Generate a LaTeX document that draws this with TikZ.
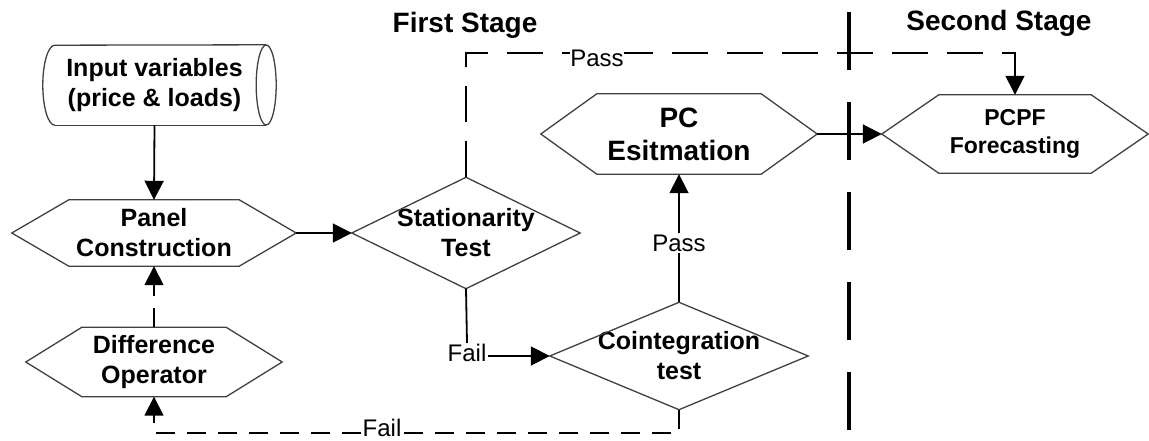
\documentclass[tikz,border=0pt]{standalone}
\usepackage{fontspec}
\setmainfont{Liberation Sans}
\usetikzlibrary{arrows.meta,calc}

% outline helpers for the flowchart boxes
\newcommand\hexoutline[2]{%
  \draw[shapeline] (#1.west) -- ([xshift=#2]#1.north west) -- ([xshift=-#2]#1.north east)
    -- (#1.east) -- ([xshift=-#2]#1.south east) -- ([xshift=#2]#1.south west) -- cycle;}
\newcommand\diaoutline[1]{%
  \draw[shapeline] (#1.west) -- (#1.north) -- (#1.east) -- (#1.south) -- cycle;}

\tikzset{
  shapeline/.style={draw=black!75, line width=1.3pt, line join=miter},
  boxtext/.style={inner sep=0pt, align=center, font=\bfseries\fontsize{25}{30}\selectfont},
  bigtext/.style={inner sep=0pt, align=center, font=\bfseries\fontsize{28}{33}\selectfont},
  title/.style={inner sep=0pt, font=\bfseries\fontsize{28}{33}\selectfont},
  lbl/.style={inner sep=1pt, font=\fontsize{24}{29}\selectfont},
  flow/.style={line width=1.8pt, -{Triangle[length=19pt,width=19pt]}},
  plain/.style={line width=1.8pt},
  longdash/.style={line width=1.6pt, dash pattern=on 36pt off 19pt},
  shortdash/.style={line width=1.6pt, dash pattern=on 19pt off 12pt},
  stagediv/.style={line width=3.5pt, dash pattern=on 58pt off 32pt},
}

\begin{document}
\begin{tikzpicture}[x=1pt,y=-1pt]
\useasboundingbox (0,0) rectangle (1149,441);

% stage headings
\node[title] (first) at (465,25) {First Stage};
\node[title] (second) at (999,23) {Second Stage};

% stage divider
\coordinate (divtop) at (849,12);
\coordinate (divbot) at (849,430);
\draw[stagediv] (divtop) -- (divbot);

% data source (horizontal cylinder)
\node[boxtext, minimum width=223pt, minimum height=80pt] (inp) at (154.5,85)
  {Input variables\\(price \& loads)};
\draw[shapeline] ([xshift=12pt]inp.south west)
  arc[start angle=270, end angle=90, x radius=12pt, y radius=40pt] -- (inp.north east);
\draw[shapeline] ([xshift=12pt]inp.south west) -- (inp.south east);
\draw[shapeline] (inp.east) ellipse[x radius=10pt, y radius=40pt];

% process boxes
\node[boxtext, minimum width=284pt, minimum height=66pt] (pan) at (154,233) {Panel\\Construction};
\hexoutline{pan}{57pt}
\node[boxtext, minimum width=256pt, minimum height=69pt] (dif) at (154,362) {Difference\\Operator};
\hexoutline{dif}{56pt}
\node[bigtext, minimum width=276pt, minimum height=80pt] (pc) at (679,134) {PC\\Esitmation};
\hexoutline{pc}{56pt}
\node[boxtext, font=\bfseries\fontsize{23}{28}\selectfont, minimum width=266pt, minimum height=78pt] (pf) at (1015,134) {PCPF\\Forecasting};
\hexoutline{pf}{57pt}

% decisions
\node[boxtext, minimum width=228pt, minimum height=111pt] (st) at (466,233) {Stationarity\\Test};
\diaoutline{st}
\node[boxtext, minimum width=258pt, minimum height=107pt] (co) at (679,356) {Cointegration\\test};
\diaoutline{co}

% solid connectors
\draw[flow] (inp.south) -- (pan.north);
\draw[flow] (pan.east) -- (st.west);
\node[lbl] (fail1) at (467,353) {Fail};
\draw[plain] (st.south) -- (fail1.north);
\draw[flow] (fail1.east |- co.west) -- (co.west);
\node[lbl] (pass1) at (679,243) {Pass};
\draw[plain] (co.north) -- (pass1.south);
\draw[flow] (pass1.north) -- (pc.south);
\draw[flow] (pc.east) -- (pf.west);

% dashed connectors
\coordinate (toprow) at (0,53);
\draw[longdash, -{Triangle[length=19pt,width=19pt]}]
  (st.north) -- (st.north |- toprow) -- (pf.north |- toprow) -- (pf.north);
\node[lbl, fill=white, inner sep=0pt] (pass2) at (597,58) {Pass};

\draw[shortdash, -{Triangle[length=19pt,width=19pt]}] (dif.north) -- (pan.south);

\coordinate (botrow) at (0,433);
\draw[shortdash, -{Triangle[length=19pt,width=19pt]}]
  (co.south) -- (co.south |- botrow) -- (dif.south |- botrow) -- (dif.south);
\node[lbl, fill=white, inner sep=0pt] (fail2) at (382,428) {Fail};
\end{tikzpicture}
\end{document}
